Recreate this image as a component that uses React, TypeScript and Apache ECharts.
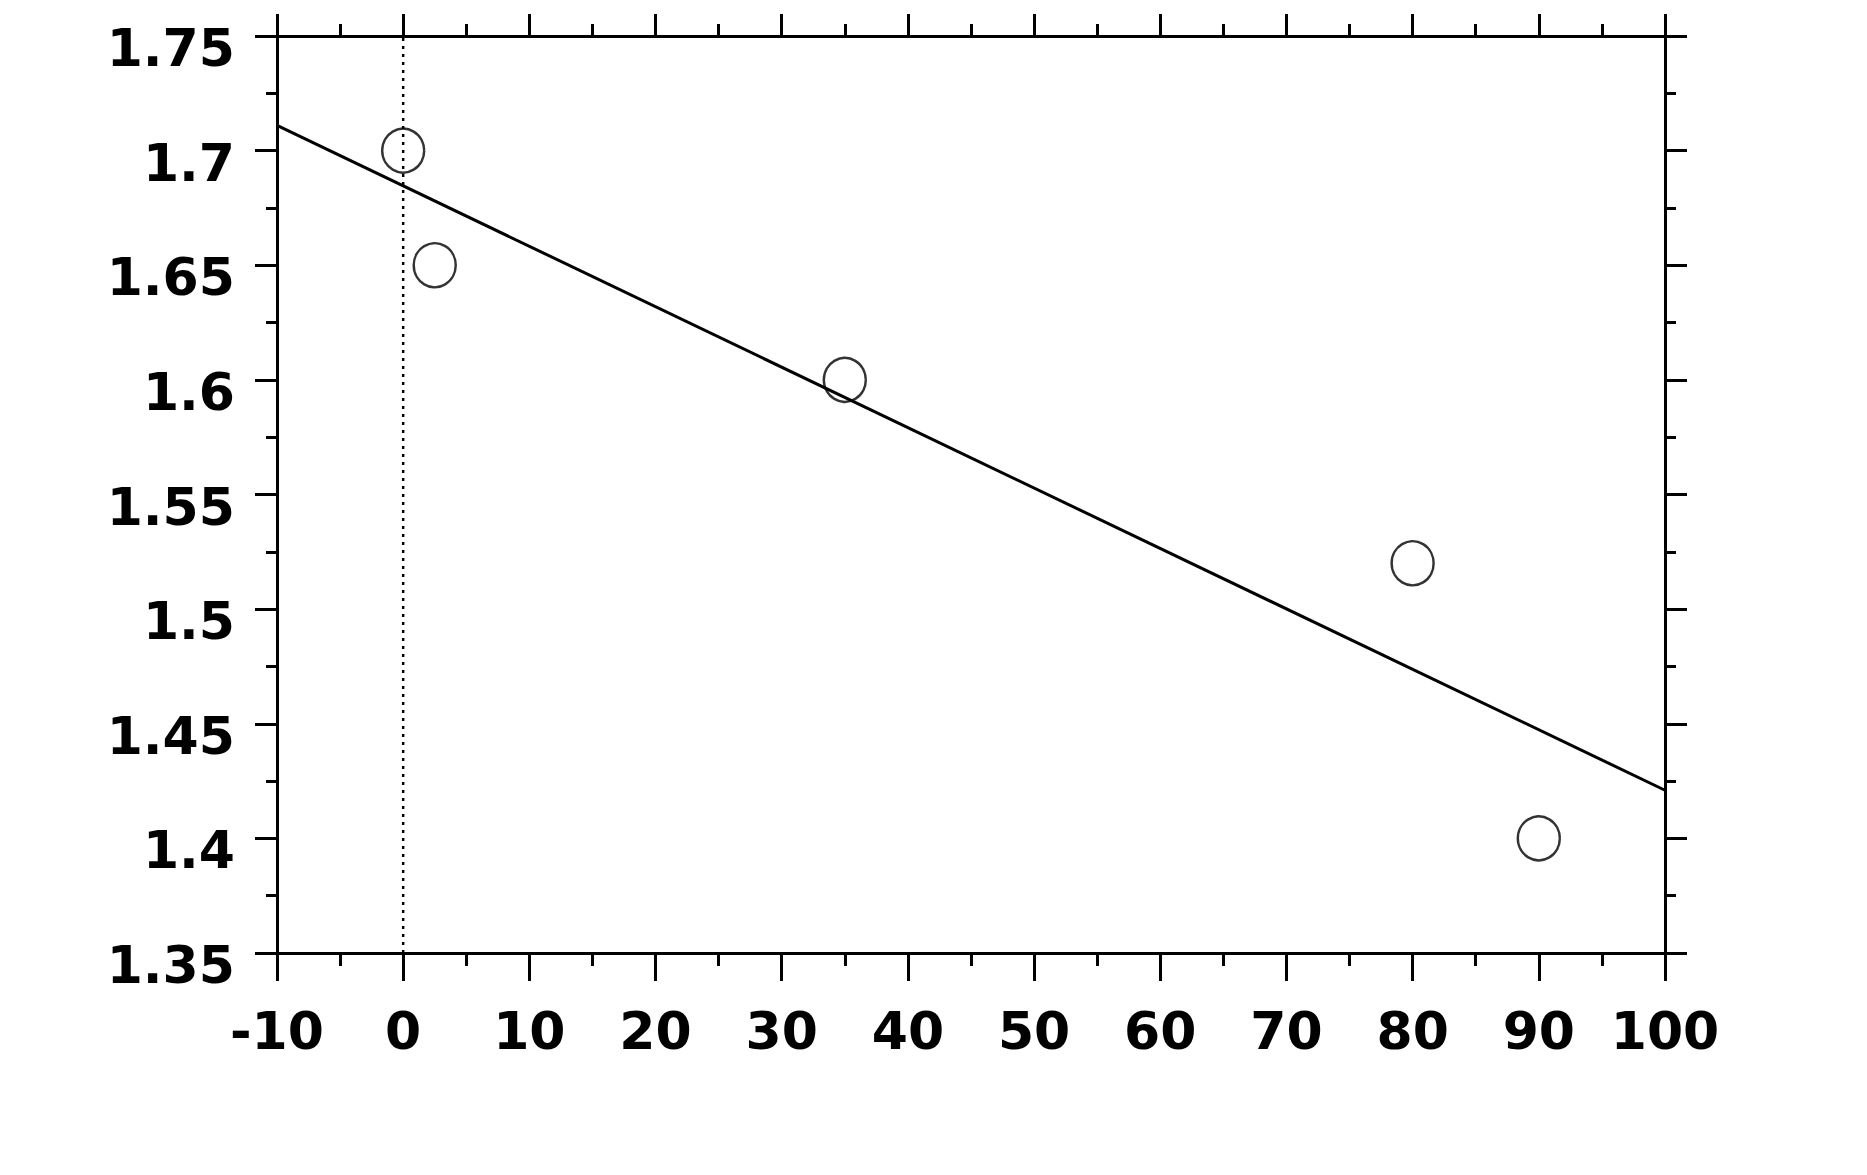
import React, { useEffect, useRef } from "react";
import * as echarts from "echarts";

const xTicks = { min: -10, max: 100, interval: 10 };
const yTicks = { min: 1.35, max: 1.75, interval: 0.05 };

// measured points (x, y)
const pointsX = [0, 2.5, 35, 80, 90];
const pointsY = [1.7, 1.65, 1.6, 1.52, 1.4];

// fitted straight line, endpoints
const fitX = [-10, 100];
const fitY = [1.711, 1.421];

// dotted vertical reference line at x = 0
const refX = [0, 0];
const refY = [1.35, 1.75];

const FONT = "DejaVu Sans";

export default function App() {
  const ref = useRef<HTMLDivElement>(null);

  useEffect(() => {
    document.body.style.margin = "0";
    const chart = echarts.init(ref.current!, null, { renderer: "svg" });
    const axisLine = { show: true, onZero: false, lineStyle: { color: "#000", width: 3 } };
    const label = {
      fontFamily: FONT,
      fontWeight: "bold" as const,
      fontSize: 52,
      color: "#000",
    };
    const xBase = {
      type: "value" as const,
      min: xTicks.min,
      max: xTicks.max,
      interval: xTicks.interval,
      axisLine,
      splitLine: { show: false },
      minorTick: { show: true, splitNumber: 2, length: 13, lineStyle: { color: "#000", width: 3 } },
      axisTick: { show: true, inside: false, length: 28, lineStyle: { color: "#000", width: 3 } },
    };
    const yBase = {
      type: "value" as const,
      min: yTicks.min,
      max: yTicks.max,
      interval: yTicks.interval,
      axisLine,
      splitLine: { show: false },
      minorTick: { show: true, splitNumber: 2, length: 11, lineStyle: { color: "#000", width: 3 } },
      axisTick: { show: true, inside: false, length: 22, lineStyle: { color: "#000", width: 3 } },
    };
    chart.setOption({
      animation: false,
      backgroundColor: "#fff",
      grid: { left: 277, right: 202, top: 36, bottom: 222 },
      xAxis: [
        {
          ...xBase,
          position: "bottom",
          axisLabel: { ...label, margin: 52, formatter: (v: number) => String(Math.round(v)) },
        },
        {
          ...xBase,
          position: "top",
          axisLabel: { show: false },
          axisTick: { show: true, inside: false, length: 22, lineStyle: { color: "#000", width: 3 } },
          minorTick: { show: true, splitNumber: 2, length: 12, lineStyle: { color: "#000", width: 3 } },
        },
      ],
      yAxis: [
        {
          ...yBase,
          position: "left",
          axisLabel: {
            ...label,
            margin: 42,
            formatter: (v: number) => "{t|" + String(parseFloat(v.toFixed(2))) + "}",
            rich: {
              t: { ...label, padding: [24, 0, 0, 0] },
            },
          },
        },
        {
          ...yBase,
          position: "right",
          axisLabel: { show: false },
        },
      ],
      series: [
        {
          type: "line",
          data: refX.map((x, i) => [x, refY[i]]),
          showSymbol: false,
          lineStyle: { color: "#000", width: 2.5, type: [3, 5] },
          silent: true,
        },
        {
          type: "line",
          data: fitX.map((x, i) => [x, fitY[i]]),
          showSymbol: false,
          lineStyle: { color: "#000", width: 3 },
          silent: true,
        },
        {
          type: "scatter",
          data: pointsX.map((x, i) => [x, pointsY[i]]),
          symbol: "circle",
          symbolSize: [42, 44],
          itemStyle: { color: "rgba(0,0,0,0)", borderColor: "#000", borderWidth: 2.5 },
        },
      ],
    });
    return () => chart.dispose();
  }, []);

  return <div ref={ref} style={{ width: 1867, height: 1175, background: "#fff" }} />;
}
